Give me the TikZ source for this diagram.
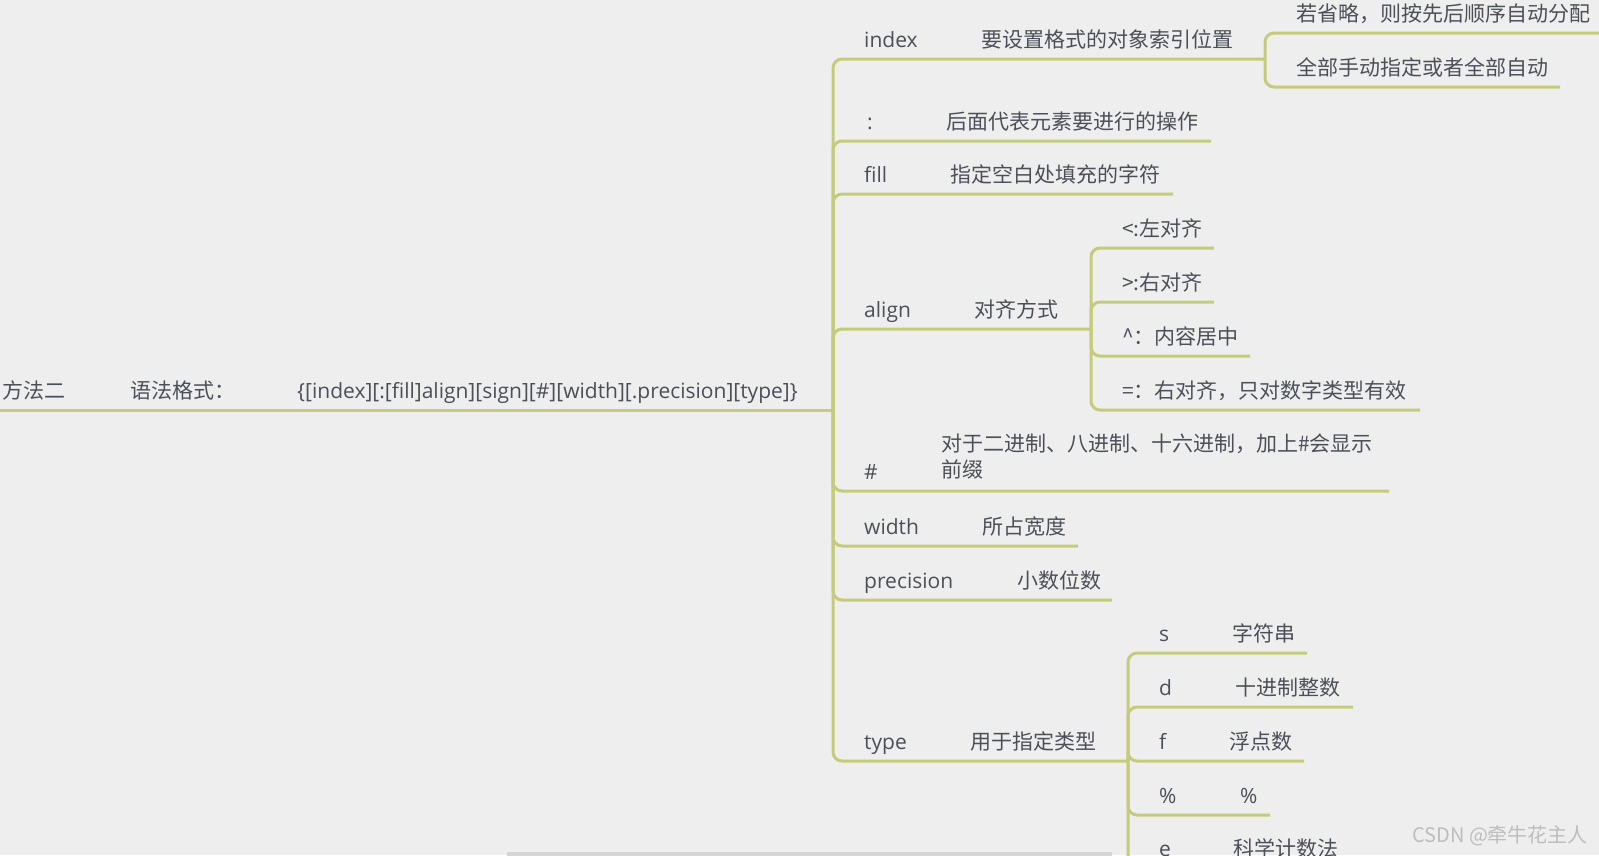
\documentclass[tikz,border=0pt]{standalone}
\usepackage{fontspec}
\setmainfont{Open Sans}
\newfontfamily\cjk{Noto Sans CJK SC}
\definecolor{bgc}{HTML}{EEEEEE}
\definecolor{lineg}{HTML}{C5CB7B}
\definecolor{txt}{HTML}{4B5058}
\definecolor{wmark}{HTML}{BDBDBD}
\definecolor{scrollc}{HTML}{D5D5D5}
\begin{document}
\begin{tikzpicture}[
    x=1pt, y=-1pt,
    lat/.style={anchor=base west, inner sep=0pt, text=txt, font=\fontsize{21}{25}\selectfont},
    zh/.style={anchor=base west, inner sep=0pt, text=txt, font=\cjk\fontsize{21}{26}\selectfont},
    branch/.style={draw=lineg, line width=3pt, rounded corners=9pt},
]
\fill[bgc] (0,0) rectangle (1599,855);
\useasboundingbox (0,0) rectangle (1599,855);
\clip (0,0) rectangle (1599,855);
% === Root ===
\coordinate (root) at (0,410);
\coordinate (trunk) at (833,410);
\node[zh] (m2) at (2,398) {方法二};
\node[zh] (syn) at (130,398) {语法格式：};
\node[lat] (fmt) at (297,398) {\{[index][:[fill]align][sign][\#][width][.precision][type]\}};
\draw[branch] (root) -- (trunk);
% === index ===
\coordinate (idx) at (1265,59);
\node[lat] (idxk) at (864,47) {index};
\node[zh] (idxv) at (981,47) {要设置格式的对象索引位置};
\draw[branch] (trunk) |- (idx);
\coordinate (omit) at (1610,33);
\coordinate (manu) at (1560,87);
\node[zh] (omitt) at (1296,21) {若省略，则按先后顺序自动分配};
\node[zh] (manut) at (1296,75) {全部手动指定或者全部自动};
\draw[branch] (idx) |- (omit);
\draw[branch] (idx) |- (manu);
% === colon ===
\coordinate (col) at (1211,141);
\node[lat] (colk) at (867,129) {:};
\node[zh] (colv) at (946,129) {后面代表元素要进行的操作};
\draw[branch] (trunk) |- (col);
% === fill ===
\coordinate (fil) at (1173,194);
\node[lat] (filk) at (864,182) {fill};
\node[zh] (filv) at (950,182) {指定空白处填充的字符};
\draw[branch] (trunk) |- (fil);
% === align ===
\coordinate (aln) at (1091,329);
\node[lat] (alnk) at (864,317) {align};
\node[zh] (alnv) at (974,317) {对齐方式};
\draw[branch] (trunk) |- (aln);
\coordinate (left) at (1214,248);
\coordinate (right) at (1214,302);
\coordinate (cent) at (1250,356);
\coordinate (eq) at (1420,410);
\node[zh] (leftt) at (1122,236) {<:左对齐};
\node[zh] (rightt) at (1122,290) {>:右对齐};
\node[zh] (centt) at (1122,344) {\textasciicircum：内容居中};
\node[zh] (eqt) at (1122,398) {=：右对齐，只对数字类型有效};
\draw[branch] (aln) |- (left);
\draw[branch] (aln) |- (right);
\draw[branch] (aln) |- (cent);
\draw[branch] (aln) |- (eq);
% === # ===
\coordinate (hsh) at (1389,491);
\node[lat] (hshk) at (864,479) {\#};
\node[zh, anchor=west, align=left] (hshv) at (941,457) {对于二进制、八进制、十六进制，加上\#会显示\\前缀};
\draw[branch] (trunk) |- (hsh);
% === width ===
\coordinate (wid) at (1078,546);
\node[lat] (widk) at (864,534) {width};
\node[zh] (widv) at (982,534) {所占宽度};
\draw[branch] (trunk) |- (wid);
% === precision ===
\coordinate (prc) at (1112,600);
\node[lat] (prck) at (864,588) {precision};
\node[zh] (prcv) at (1017,588) {小数位数};
\draw[branch] (trunk) |- (prc);
% === type ===
\coordinate (typ) at (1128,761);
\node[lat] (typk) at (864,749) {type};
\node[zh] (typv) at (970,749) {用于指定类型};
\draw[branch] (trunk) |- (typ);
\coordinate (ts) at (1307,653);
\coordinate (td) at (1353,707);
\coordinate (tf) at (1304,761);
\coordinate (tp) at (1270,815);
\coordinate (te) at (1340,868);
\node[lat] (tsk) at (1159,641) {s};
\node[zh] (tsv) at (1232,641) {字符串};
\node[lat] (tdk) at (1159,695) {d};
\node[zh] (tdv) at (1235,695) {十进制整数};
\node[lat] (tfk) at (1159,749) {f};
\node[zh] (tfv) at (1229,749) {浮点数};
\node[lat] (tpk) at (1159,803) {\%};
\node[lat] (tpv) at (1240,803) {\%};
\node[lat] (tek) at (1159,856) {e};
\node[zh] (tev) at (1233,856) {科学计数法};
\draw[branch] (typ) |- (ts);
\draw[branch] (typ) |- (td);
\draw[branch] (typ) |- (tf);
\draw[branch] (typ) |- (tp);
\draw[branch] (typ) |- (te);
% === watermark, scroll bar ===
\node[anchor=west, inner sep=0pt, text=wmark, font=\cjk\fontsize{20}{24}\selectfont] (csdn) at (1412,836) {CSDN @牵牛花主人};
\fill[scrollc] (507,852) rectangle (1112,856);
\end{tikzpicture}
\end{document}
